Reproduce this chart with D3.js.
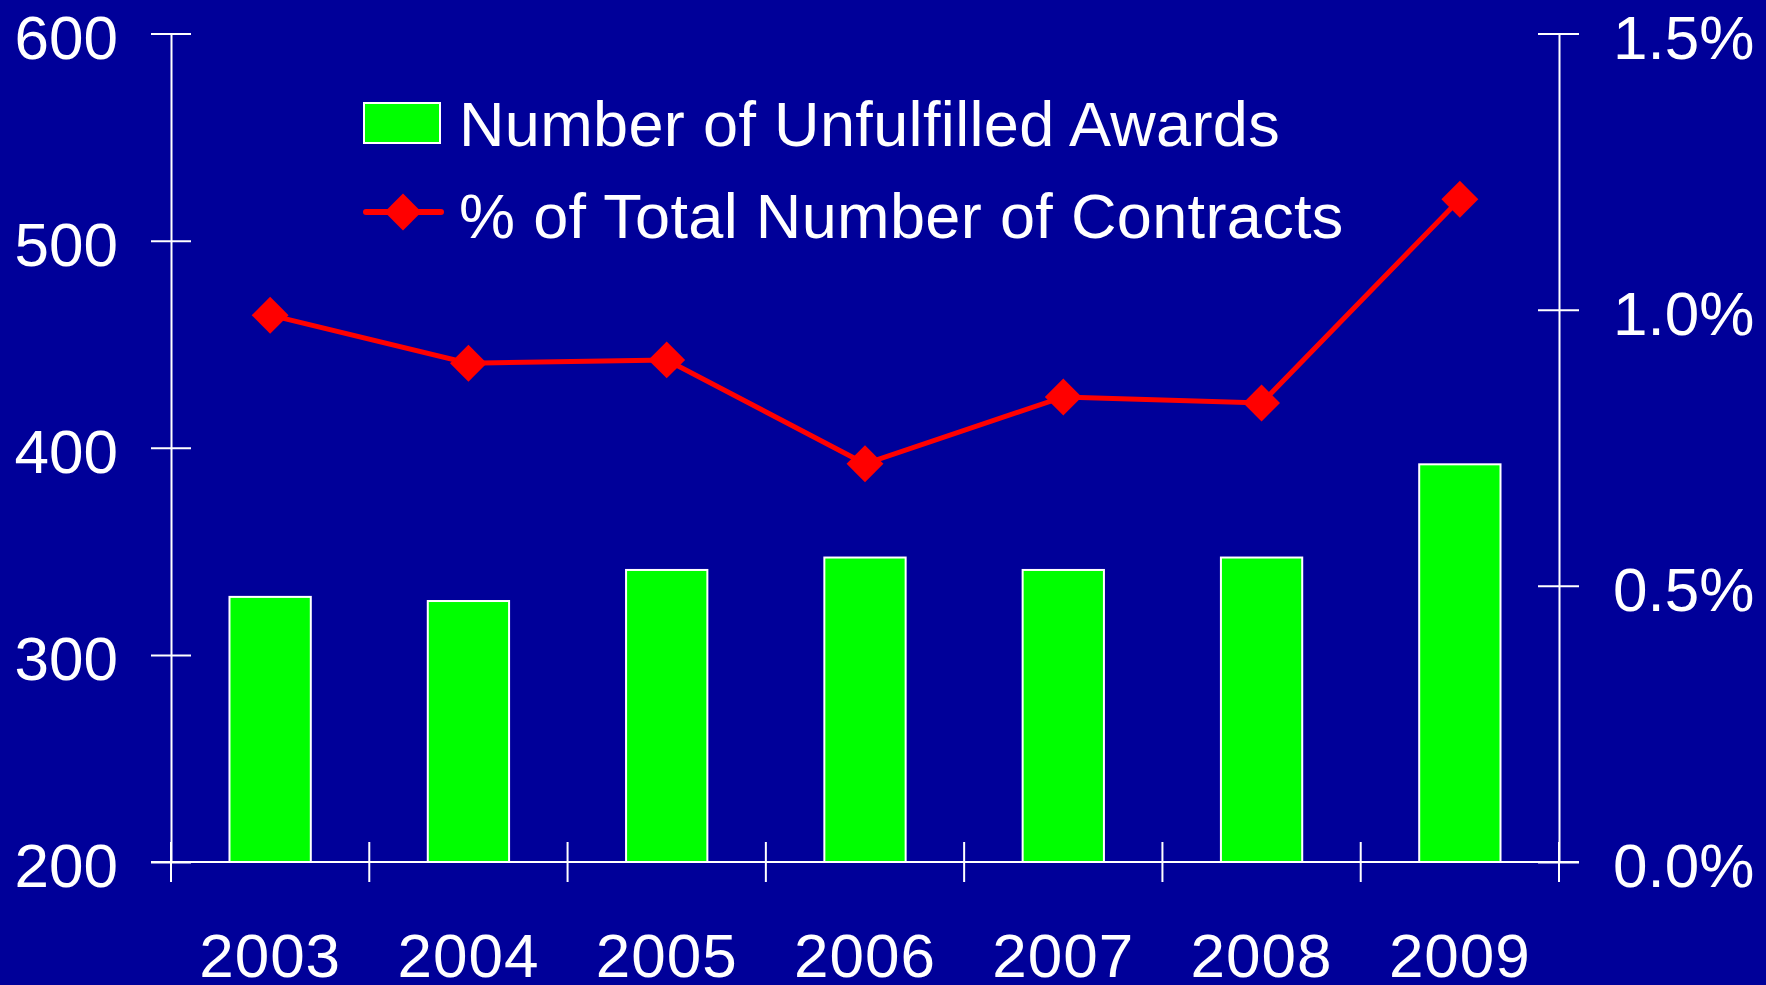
<!DOCTYPE html>
<html lang="en">
<head>
    <meta charset="UTF-8">
    <title>Unfulfilled Awards</title>
    <script src="https://d3js.org/d3.v7.min.js"></script>
    <style>
        body{ margin:0; background:#000099; }
        svg{ display:block; }
        .tick text, .legend text{
            font-family: "Liberation Sans", Arial, Helvetica, sans-serif;
            fill: white;
        }
    </style>
</head>
<body>
<svg width="1766" height="985"></svg>
<script>
    // values
    const years = ["2003", "2004", "2005", "2006", "2007", "2008", "2009"]
    const awards = [328, 326, 341, 347, 341, 347, 392]
    const pctOfContracts = [0.99, 0.903, 0.909, 0.721, 0.842, 0.831, 1.20]
    const leftTicks = [200, 300, 400, 500, 600]
    const rightTicks = [0, 0.5, 1.0, 1.5]
    const legendLabels = ["Number of Unfulfilled Awards", "% of Total Number of Contracts"]

    const svg = d3.select("svg")
    svg.append("rect").attr("width", 1766).attr("height", 985).attr("fill", "#000099")

    const plotLeft = 171, plotRight = 1559, plotTop = 33.5, plotBottom = 862

    const x = d3.scaleBand().domain(years).range([plotLeft, plotRight])
        .paddingInner(0.59).paddingOuter(0.295)
    const y = d3.scaleLinear().domain([200, 600]).range([plotBottom, plotTop])
    const y2 = d3.scaleLinear().domain([0, 1.5]).range([plotBottom, plotTop])

    // bars
    svg.append("g").selectAll("rect")
        .data(years)
        .enter().append("rect")
        .attr("x", d => x(d))
        .attr("width", x.bandwidth())
        .attr("y", (d, i) => y(awards[i]))
        .attr("height", (d, i) => y(200) - y(awards[i]))
        .attr("fill", "#00ff00")
        .attr("stroke", "white")
        .attr("stroke-width", 2)

    // left axis, ticks cross the line
    const gl = svg.append("g").attr("transform", `translate(${plotLeft},0)`)
        .call(d3.axisLeft(y).tickValues(leftTicks).tickSize(20).tickSizeOuter(0))
    gl.selectAll(".tick line").attr("x1", -20).attr("x2", 20)
    gl.selectAll(".tick text").attr("x", -53).attr("dy", "0.4em").style("font-size", "62px")

    // right axis
    const gr = svg.append("g").attr("transform", `translate(${plotRight},0)`)
        .call(d3.axisRight(y2).tickValues(rightTicks).tickSize(20).tickSizeOuter(0)
            .tickFormat(d => d.toFixed(1) + "%"))
    gr.selectAll(".tick line").attr("x1", -21).attr("x2", 20)
    gr.selectAll(".tick text").attr("x", 54).attr("dy", "0.4em").style("font-size", "62px")

    // bottom axis: labels under each band, ticks between bands
    const gb = svg.append("g").attr("transform", `translate(0,${plotBottom})`)
        .call(d3.axisBottom(x).tickSize(0).tickSizeOuter(0))
    gb.select(".domain").remove()
    gb.selectAll(".tick text").attr("y", 115).attr("dy", 0)
        .style("font-size", "62px").style("letter-spacing", "1px")

    const gap = (x.step() - x.bandwidth()) / 2
    const bounds = years.map(d => x(d) - gap).concat([x(years[years.length - 1]) + x.bandwidth() + gap])
    svg.append("g").selectAll("line")
        .data(bounds)
        .enter().append("line")
        .attr("x1", d => d).attr("x2", d => d)
        .attr("y1", plotBottom - 20).attr("y2", plotBottom + 20)
        .attr("stroke", "white").attr("stroke-width", 2)
    svg.append("line")
        .attr("x1", plotLeft - 20).attr("x2", plotRight + 20)
        .attr("y1", plotBottom).attr("y2", plotBottom)
        .attr("stroke", "white").attr("stroke-width", 2)

    svg.selectAll(".domain, .tick line").attr("stroke", "white").attr("stroke-width", 2)

    // line + diamond markers
    const cx = d => x(d) + x.bandwidth() / 2
    const line = d3.line().x((d, i) => cx(years[i])).y(d => y2(d))
    svg.append("path")
        .datum(pctOfContracts)
        .attr("d", line)
        .attr("fill", "none")
        .attr("stroke", "red")
        .attr("stroke-width", 5)

    const diamond = d3.symbol().type(d3.symbolSquare).size(680)
    svg.append("g").selectAll("path")
        .data(pctOfContracts)
        .enter().append("path")
        .attr("d", diamond)
        .attr("transform", (d, i) => `translate(${cx(years[i])},${y2(d)}) rotate(45)`)
        .attr("fill", "red")

    // legend
    const lg = svg.append("g").attr("class", "legend")
    lg.append("rect")
        .attr("x", 364).attr("y", 103).attr("width", 76).attr("height", 40)
        .attr("fill", "#00ff00").attr("stroke", "white").attr("stroke-width", 2)
    lg.append("line")
        .attr("x1", 366).attr("x2", 441).attr("y1", 212).attr("y2", 212)
        .attr("stroke", "red").attr("stroke-width", 6).attr("stroke-linecap", "round")
    lg.append("path")
        .attr("d", diamond)
        .attr("transform", "translate(403,212) rotate(45)")
        .attr("fill", "red")
    lg.selectAll("text")
        .data(legendLabels)
        .enter().append("text")
        .attr("x", 459)
        .attr("y", (d, i) => 146 + i * 92)
        .style("font-size", "63px")
        .style("letter-spacing", "0.35px")
        .text(d => d)
</script>
</body>
</html>
